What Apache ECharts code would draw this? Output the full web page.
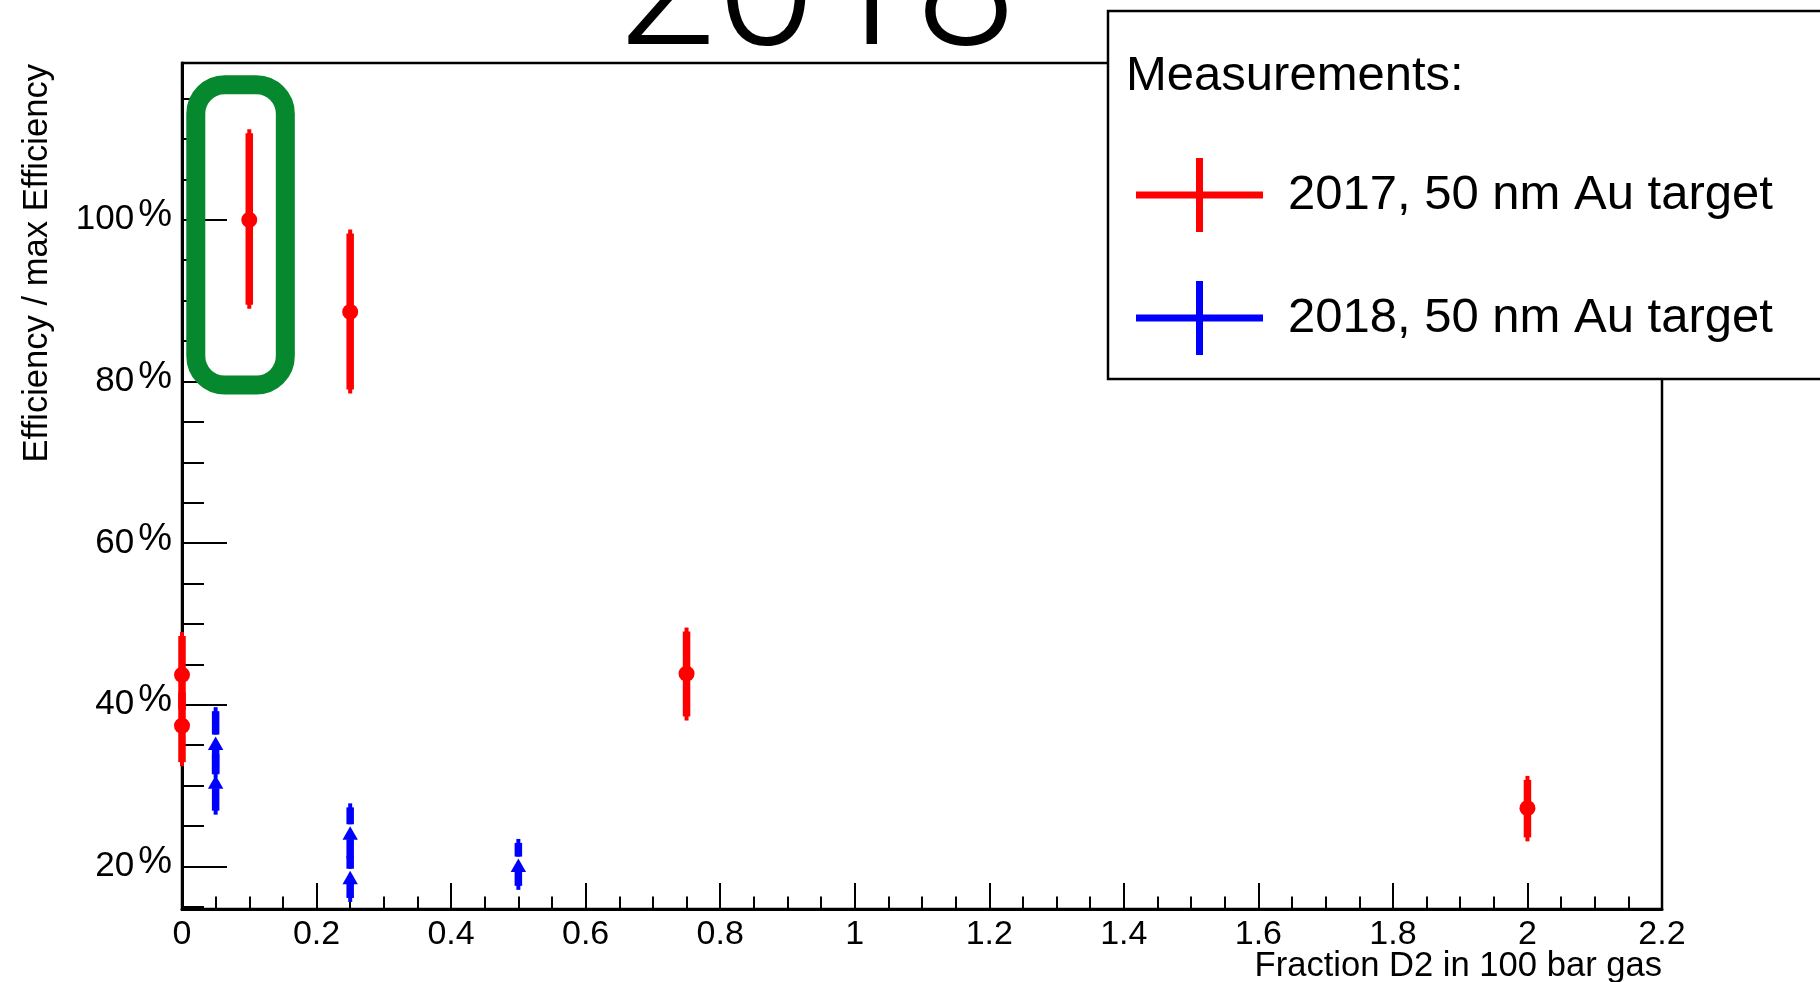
<!DOCTYPE html>
<html>
<head>
<meta charset="utf-8">
<title>Efficiency vs fraction D2</title>
<script src="https://cdn.jsdelivr.net/npm/echarts@6/dist/echarts.min.js"></script>
<style>
  html, body { margin: 0; padding: 0; background: #fff; }
  #chart { width: 1820px; height: 982px; }
</style>
</head>
<body>
<div id="chart"></div>
<script>
// 2017, 50 nm Au target: fraction D2, efficiency (%), error up, error down
const x2017 = [0, 0, 0.1, 0.25, 0.75, 2.0];
const y2017 = [43.7, 37.4, 100.0, 88.6, 43.85, 27.2];
const errUp2017 = [5.3, 4.6, 11.2, 10.2, 5.7, 4.0];
const errDown2017 = [4.8, 5.0, 11.0, 10.1, 5.8, 4.1];

// 2018, 50 nm Au target
const x2018 = [0.05, 0.05, 0.25, 0.25, 0.5];
const y2018 = [35.2, 30.4, 24.1, 18.6, 20.1];
const errUp2018 = [4.5, 4.0, 3.7, 3.2, 3.3];
const errDown2018 = [4.3, 4.0, 3.6, 3.0, 3.0];

const seriesNames = ['2017, 50 nm Au target', '2018, 50 nm Au target'];
const yTickValues = [20, 40, 60, 80, 100];
const yMinorTickValues = [15, 25, 30, 35, 45, 50, 55, 65, 70, 75, 85, 90, 95, 105, 110, 115];

const FONT = '"Liberation Sans", Arial, Helvetica, sans-serif';
const crossIcon = 'path://M0,33.5H60V0H67V33.5H127V40.5H67V74H60V40.5H0Z';

const zip = (xs, ys, up, down) => xs.map((x, i) => [x, ys[i], up[i], down[i]]);

const errorBars = (marker) => (params, api) => {
  const x = api.value(0);
  const y = api.value(1);
  const c = api.coord([x, y]);
  const top = api.coord([x, y + api.value(2)])[1];
  const bot = api.coord([x, y - api.value(3)])[1];
  const color = api.visual('color');
  const children = [];

  if (marker === 'circle') {
    children.push(
      {type: 'line', shape: {x1: c[0], y1: top, x2: c[0], y2: bot}, style: {stroke: color, lineWidth: 4}},
      {type: 'line', shape: {x1: c[0], y1: top + 4, x2: c[0], y2: bot - 4}, style: {stroke: color, lineWidth: 7.5}},
      {type: 'circle', shape: {cx: c[0], cy: c[1], r: 8}, style: {fill: color}}
    );
  } else {
    // bars stop at the marker, as ROOT draws them
    children.push(
      {type: 'line', shape: {x1: c[0], y1: top, x2: c[0], y2: c[1] - 9}, style: {stroke: color, lineWidth: 4}},
      {type: 'line', shape: {x1: c[0], y1: top + 4, x2: c[0], y2: c[1] - 9}, style: {stroke: color, lineWidth: 7.5}},
      {type: 'line', shape: {x1: c[0], y1: c[1] + 6, x2: c[0], y2: bot}, style: {stroke: color, lineWidth: 4}},
      {type: 'line', shape: {x1: c[0], y1: c[1] + 6, x2: c[0], y2: bot - 4}, style: {stroke: color, lineWidth: 7.5}},
      {
        type: 'polygon',
        shape: {points: [[c[0], c[1] - 7], [c[0] + 7.7, c[1] + 6.5], [c[0] - 7.7, c[1] + 6.5]]},
        style: {fill: color}
      }
    );
  }

  return {type: 'group', children: children};
};

const chart = echarts.init(document.getElementById('chart'));

const option = {
  backgroundColor: '#fff',
  animation: false,
  textStyle: {fontFamily: FONT, color: '#000'},
  grid: {
    left: 182, right: 158, top: 63, bottom: 73,
    show: true, borderColor: '#000', borderWidth: 2.5, backgroundColor: 'transparent'
  },
  xAxis: {
    type: 'value',
    min: 0,
    max: 2.2,
    interval: 0.2,
    axisLine: {show: true, onZero: false, lineStyle: {color: '#000', width: 3}},
    axisTick: {show: true, inside: true, length: 26, lineStyle: {color: '#000', width: 2}},
    minorTick: {show: true, splitNumber: 4, length: 12.5, lineStyle: {color: '#000', width: 2}},
    splitLine: {show: false},
    axisLabel: {fontSize: 34, margin: 9, color: '#000', fontFamily: FONT}
  },
  yAxis: [
    {
      type: 'value',
      min: 14.73,
      max: 119.4,
      axisLine: {show: true, onZero: false, lineStyle: {color: '#000', width: 3}},
      axisTick: {show: true, inside: true, length: 45, customValues: yTickValues, lineStyle: {color: '#000', width: 2}},
      splitLine: {show: false},
      axisLabel: {
        customValues: yTickValues,
        margin: 10,
        formatter: (v) => '{n|' + v + '}{p|%}',
        rich: {
          n: {fontSize: 35, fontFamily: FONT, color: '#000'},
          p: {fontSize: 38, fontFamily: FONT, color: '#000', padding: [0, 0, 8, 4]}
        }
      }
    },
    {
      type: 'value',
      position: 'left',
      min: 14.73,
      max: 119.4,
      axisLine: {show: false},
      axisTick: {show: true, inside: true, length: 22, customValues: yMinorTickValues, lineStyle: {color: '#000', width: 2}},
      axisLabel: {show: false},
      splitLine: {show: false}
    }
  ],
  legend: {
    orient: 'vertical',
    left: 1131,
    top: 153,
    z: 110,
    itemWidth: 127,
    itemHeight: 74,
    itemGap: 49,
    icon: crossIcon,
    selectedMode: false,
    textStyle: {fontSize: 49, fontFamily: FONT, color: '#000', padding: [0, 0, 0, 20]},
    data: seriesNames
  },
  series: [
    {
      name: seriesNames[0],
      type: 'custom',
      renderItem: errorBars('circle'),
      itemStyle: {color: '#ff0000'},
      encode: {x: 0, y: 1},
      data: zip(x2017, y2017, errUp2017, errDown2017),
      clip: false,
      z: 5
    },
    {
      name: seriesNames[1],
      type: 'custom',
      renderItem: errorBars('triangle'),
      itemStyle: {color: '#0000ff'},
      encode: {x: 0, y: 1},
      data: zip(x2018, y2018, errUp2018, errDown2018),
      clip: false,
      z: 5
    }
  ],
  graphic: [
    {
      type: 'text', x: 816, y: -1, z: 50,
      style: {text: '2018', fontSize: 180, fontFamily: 'Roboto, ' + FONT, fontWeight: 300, fill: '#000', align: 'center', verticalAlign: 'middle'}
    },
    {
      type: 'text', x: 37, y: 64, rotation: Math.PI / 2,
      style: {text: 'Efficiency / max Efficiency', fontSize: 34.6, fontFamily: FONT, fill: '#000', align: 'right', verticalAlign: 'middle'}
    },
    {
      type: 'text', x: 1662, y: 966,
      style: {text: 'Fraction D2 in 100 bar gas', fontSize: 34.6, fontFamily: FONT, fill: '#000', align: 'right', verticalAlign: 'middle'}
    },
    {
      type: 'rect', z: 100,
      shape: {x: 1108, y: 11, width: 760, height: 368},
      style: {fill: '#fff', stroke: '#000', lineWidth: 2.5}
    },
    {
      type: 'text', x: 1126, y: 76.5, z: 110,
      style: {text: 'Measurements:', fontSize: 49, fontFamily: FONT, fill: '#000', align: 'left', verticalAlign: 'middle'}
    }
  ]
};

chart.setOption(option);

// green highlight around the 0.1 point, placed in data space
const hl0 = chart.convertToPixel({gridIndex: 0}, [0.0205, 116.7]);
const hl1 = chart.convertToPixel({gridIndex: 0}, [0.1536, 79.55]);
chart.setOption({
  graphic: {
    elements: [{
      id: 'highlight',
      type: 'rect',
      z: 60,
      shape: {x: hl0[0], y: hl0[1], width: hl1[0] - hl0[0], height: hl1[1] - hl0[1], r: 29},
      style: {fill: 'none', stroke: '#06882e', lineWidth: 19}
    }]
  }
});
</script>
</body>
</html>
